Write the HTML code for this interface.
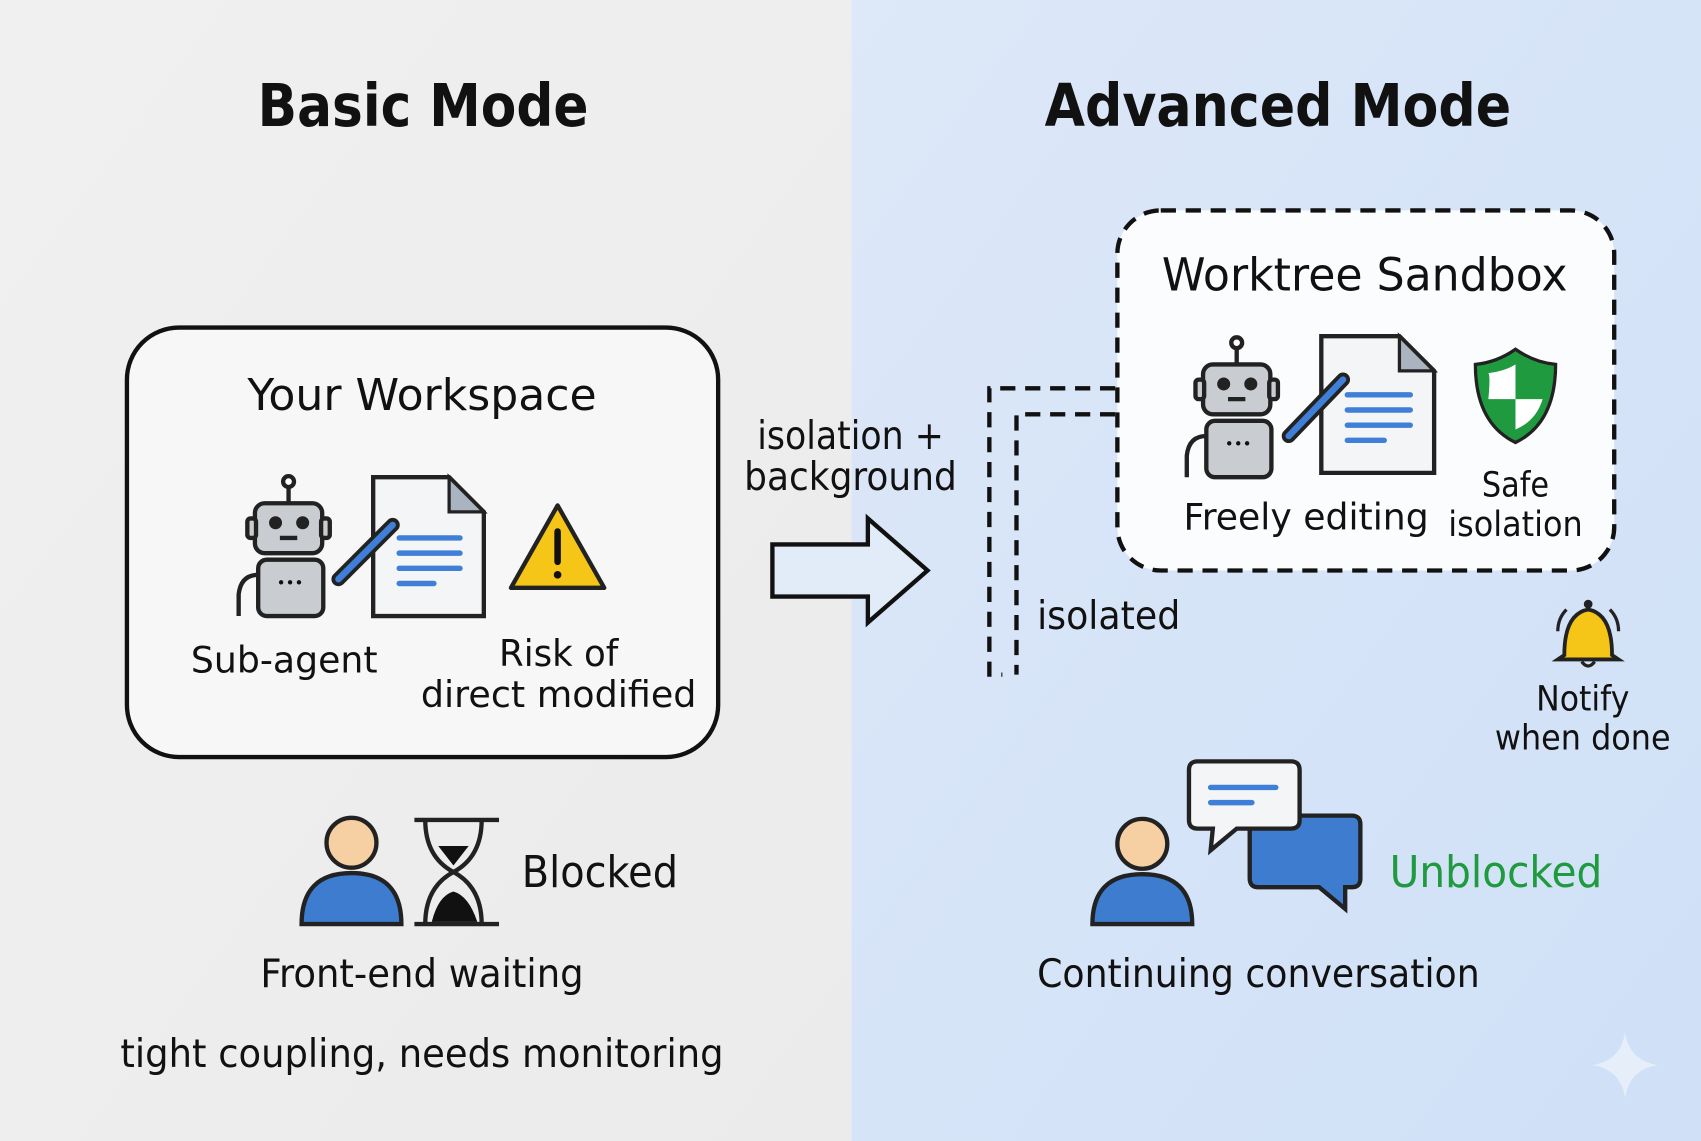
<!DOCTYPE html>
<html><head><meta charset="utf-8"><style>
html,body{margin:0;padding:0;width:1701px;height:1141px;overflow:hidden}
svg{display:block}
text{font-family:"DejaVu Sans","Liberation Sans",sans-serif;fill:#111}
</style></head><body>
<svg width="1701" height="1141" viewBox="0 0 1568 1052" preserveAspectRatio="none" xmlns="http://www.w3.org/2000/svg">
<defs>
<linearGradient id="lg" x1="0" x2="1" y1="0" y2="1"><stop offset="0" stop-color="#f0f0f0"/><stop offset="1" stop-color="#ebebeb"/></linearGradient>
<linearGradient id="rg" x1="0" x2="1" y1="0" y2="1"><stop offset="0" stop-color="#dde8f8"/><stop offset="1" stop-color="#cfe0f7"/></linearGradient>
</defs>
<rect x="0" y="0" width="785" height="1052" fill="url(#lg)"/>
<rect x="785" y="0" width="783" height="1052" fill="url(#rg)"/>

<text x="390" y="116" font-size="54" font-weight="bold" text-anchor="middle" textLength="305" lengthAdjust="spacingAndGlyphs">Basic Mode</text>
<text x="1178" y="116" font-size="54" font-weight="bold" text-anchor="middle" textLength="430" lengthAdjust="spacingAndGlyphs">Advanced Mode</text>

<rect x="117" y="302" width="545" height="396" rx="48" fill="#f7f7f7" stroke="#111" stroke-width="4"/>
<text x="389" y="378" font-size="40" text-anchor="middle" textLength="322" lengthAdjust="spacingAndGlyphs">Your Workspace</text>

<g id="robot" stroke="#222" stroke-width="4" fill="#c9ccd1">
<line x1="266" y1="448" x2="266" y2="464"/><circle cx="266" cy="444" r="5" fill="#fff"/>
<rect x="235" y="464" width="62" height="46" rx="9"/>
<rect x="228" y="478" width="8" height="18" rx="3"/><rect x="296" y="478" width="8" height="18" rx="3"/>
<circle cx="254" cy="482" r="4" fill="#222"/><circle cx="279" cy="482" r="4" fill="#222"/>
<line x1="258" y1="496" x2="274" y2="496"/>
<rect x="238" y="516" width="60" height="52" rx="8"/>
<path d="M238 530 Q222 530 220 548 L220 568" fill="none"/>
<text x="255" y="542" font-size="14" stroke="none" fill="#222">•••</text>
</g>
<path d="M344 440 L414 440 L446 472 L446 568 L344 568 Z" fill="#f4f5f7" stroke="#222" stroke-width="4"/>
<path d="M414 440 L414 472 L446 472 Z" fill="#aab3c0" stroke="#222" stroke-width="3"/>
<g stroke="#3f7fd8" stroke-width="5" stroke-linecap="round"><line x1="368" y1="496" x2="424" y2="496"/><line x1="368" y1="510" x2="424" y2="510"/><line x1="368" y1="524" x2="424" y2="524"/><line x1="368" y1="538" x2="400" y2="538"/></g>
<line x1="312" y1="534" x2="362" y2="484" stroke="#222" stroke-width="13" stroke-linecap="round"/>
<line x1="312" y1="534" x2="362" y2="484" stroke="#3f7fd8" stroke-width="6" stroke-linecap="round"/>
<path d="M514 466 L557 542 L471 542 Z" fill="#f5c518" stroke="#222" stroke-width="4" stroke-linejoin="round"/>
<line x1="514" y1="490" x2="514" y2="518" stroke="#111" stroke-width="6" stroke-linecap="round"/><circle cx="514" cy="530" r="3.5" fill="#111"/>
<text x="262" y="620" font-size="34" text-anchor="middle" textLength="172" lengthAdjust="spacingAndGlyphs">Sub-agent</text>
<text x="515" y="614" font-size="34" text-anchor="middle" textLength="110" lengthAdjust="spacingAndGlyphs">Risk of</text>
<text x="515" y="652" font-size="34" text-anchor="middle" textLength="254" lengthAdjust="spacingAndGlyphs">direct modified</text>

<circle cx="324" cy="777" r="23" fill="#f6cfa3" stroke="#222" stroke-width="4"/>
<path d="M278 852 Q278 805 324 805 Q370 805 370 852 Z" fill="#3e7cd0" stroke="#222" stroke-width="4"/>
<g stroke="#222" stroke-width="4" fill="none">
<line x1="382" y1="756" x2="460" y2="756"/><line x1="382" y1="852" x2="460" y2="852"/>
<path d="M392 756 Q392 790 418 804 Q444 790 444 756"/>
<path d="M392 852 Q392 818 418 804 Q444 818 444 852"/>
</g>
<path d="M404 780 L432 780 L418 798 Z" fill="#111"/>
<path d="M398 850 Q404 826 418 822 Q432 826 440 850 Z" fill="#111"/>
<text x="553" y="818" font-size="40" text-anchor="middle" textLength="144" lengthAdjust="spacingAndGlyphs">Blocked</text>
<text x="389" y="910" font-size="36" text-anchor="middle" textLength="298" lengthAdjust="spacingAndGlyphs">Front-end waiting</text>
<text x="389" y="984" font-size="36" text-anchor="middle" textLength="556" lengthAdjust="spacingAndGlyphs">tight coupling, needs monitoring</text>

<text x="784" y="414" font-size="36" text-anchor="middle" textLength="172" lengthAdjust="spacingAndGlyphs">isolation +</text>
<text x="784" y="452" font-size="36" text-anchor="middle" textLength="196" lengthAdjust="spacingAndGlyphs">background</text>
<path d="M712 502 L800 502 L800 478 L855 526 L800 574 L800 550 L712 550 Z" fill="#e2ecf9" stroke="#111" stroke-width="4"/>

<g stroke="#111" stroke-width="4" fill="none" stroke-dasharray="14,9">
<path d="M1028 358 L912 358 L912 622 L924 622"/>
<path d="M1028 382 L937 382 L937 622"/>
</g>
<text x="956" y="580" font-size="36" textLength="132" lengthAdjust="spacingAndGlyphs">isolated</text>

<rect x="1030" y="194" width="458" height="332" rx="40" fill="#fbfcfe" stroke="#111" stroke-width="4" stroke-dasharray="14,9"/>
<text x="1258" y="268" font-size="42" text-anchor="middle" textLength="374" lengthAdjust="spacingAndGlyphs">Worktree Sandbox</text>
<use href="#robot" transform="translate(874 -128)"/>
<path d="M1218 310 L1290 310 L1322 342 L1322 436 L1218 436 Z" fill="#f4f5f7" stroke="#222" stroke-width="4"/>
<path d="M1290 310 L1290 342 L1322 342 Z" fill="#aab3c0" stroke="#222" stroke-width="3"/>
<g stroke="#3f7fd8" stroke-width="5" stroke-linecap="round"><line x1="1242" y1="364" x2="1300" y2="364"/><line x1="1242" y1="378" x2="1300" y2="378"/><line x1="1242" y1="392" x2="1300" y2="392"/><line x1="1242" y1="406" x2="1276" y2="406"/></g>
<line x1="1188" y1="402" x2="1238" y2="350" stroke="#222" stroke-width="13" stroke-linecap="round"/>
<line x1="1188" y1="402" x2="1238" y2="350" stroke="#3f7fd8" stroke-width="6" stroke-linecap="round"/>
<path d="M1397 322 Q1380 334 1360 336 Q1360 390 1397 408 Q1434 390 1434 336 Q1414 334 1397 322 Z" fill="#1f9a3e" stroke="#222" stroke-width="3"/>
<path d="M1397 336 L1397 368 L1372 368 Q1374 346 1372 344 Q1388 342 1397 336 Z" fill="#fff"/>
<path d="M1397 368 L1422 368 Q1416 388 1397 396 Z" fill="#fff"/>
<text x="1204" y="488" font-size="34" text-anchor="middle" textLength="226" lengthAdjust="spacingAndGlyphs">Freely editing</text>
<text x="1397" y="458" font-size="32" text-anchor="middle" textLength="62" lengthAdjust="spacingAndGlyphs">Safe</text>
<text x="1397" y="494" font-size="32" text-anchor="middle" textLength="124" lengthAdjust="spacingAndGlyphs">isolation</text>

<path d="M1442 604 Q1442 566 1464 562 Q1486 566 1486 604 L1492 608 L1436 608 Z" fill="#f5c518" stroke="#222" stroke-width="3.5"/>
<circle cx="1464" cy="557" r="4" fill="#222"/>
<path d="M1458 610 Q1464 618 1470 610" stroke="#222" stroke-width="3" fill="none"/>
<path d="M1444 562 Q1436 570 1436 582 M1484 562 Q1492 570 1492 582" stroke="#222" stroke-width="3" fill="none"/>
<text x="1459" y="655" font-size="32" text-anchor="middle" textLength="86" lengthAdjust="spacingAndGlyphs">Notify</text>
<text x="1459" y="691" font-size="32" text-anchor="middle" textLength="162" lengthAdjust="spacingAndGlyphs">when done</text>

<circle cx="1053" cy="778" r="23" fill="#f6cfa3" stroke="#222" stroke-width="4"/>
<path d="M1007 852 Q1007 806 1053 806 Q1099 806 1099 852 Z" fill="#3e7cd0" stroke="#222" stroke-width="4"/>
<path d="M1160 752 L1246 752 Q1254 752 1254 760 L1254 810 Q1254 818 1246 818 L1240 818 L1240 838 L1216 818 L1160 818 Q1152 818 1152 810 L1152 760 Q1152 752 1160 752 Z" fill="#3e7cd0" stroke="#222" stroke-width="4"/>
<path d="M1104 702 L1190 702 Q1198 702 1198 710 L1198 756 Q1198 764 1190 764 L1140 764 L1116 784 L1118 764 L1104 764 Q1096 764 1096 756 L1096 710 Q1096 702 1104 702 Z" fill="#f4f5f7" stroke="#222" stroke-width="4"/>
<g stroke="#3f7fd8" stroke-width="5" stroke-linecap="round"><line x1="1116" y1="726" x2="1176" y2="726"/><line x1="1116" y1="740" x2="1154" y2="740"/></g>
<text x="1379" y="818" font-size="40" text-anchor="middle" textLength="196" lengthAdjust="spacingAndGlyphs" style="fill:#1f9a3e">Unblocked</text>
<text x="1160" y="910" font-size="36" text-anchor="middle" textLength="408" lengthAdjust="spacingAndGlyphs">Continuing conversation</text>

<path d="M1498 952 Q1502 978 1528 982 Q1502 986 1498 1012 Q1494 986 1468 982 Q1494 978 1498 952 Z" fill="#e6eef9"/>
</svg>
</body></html>
